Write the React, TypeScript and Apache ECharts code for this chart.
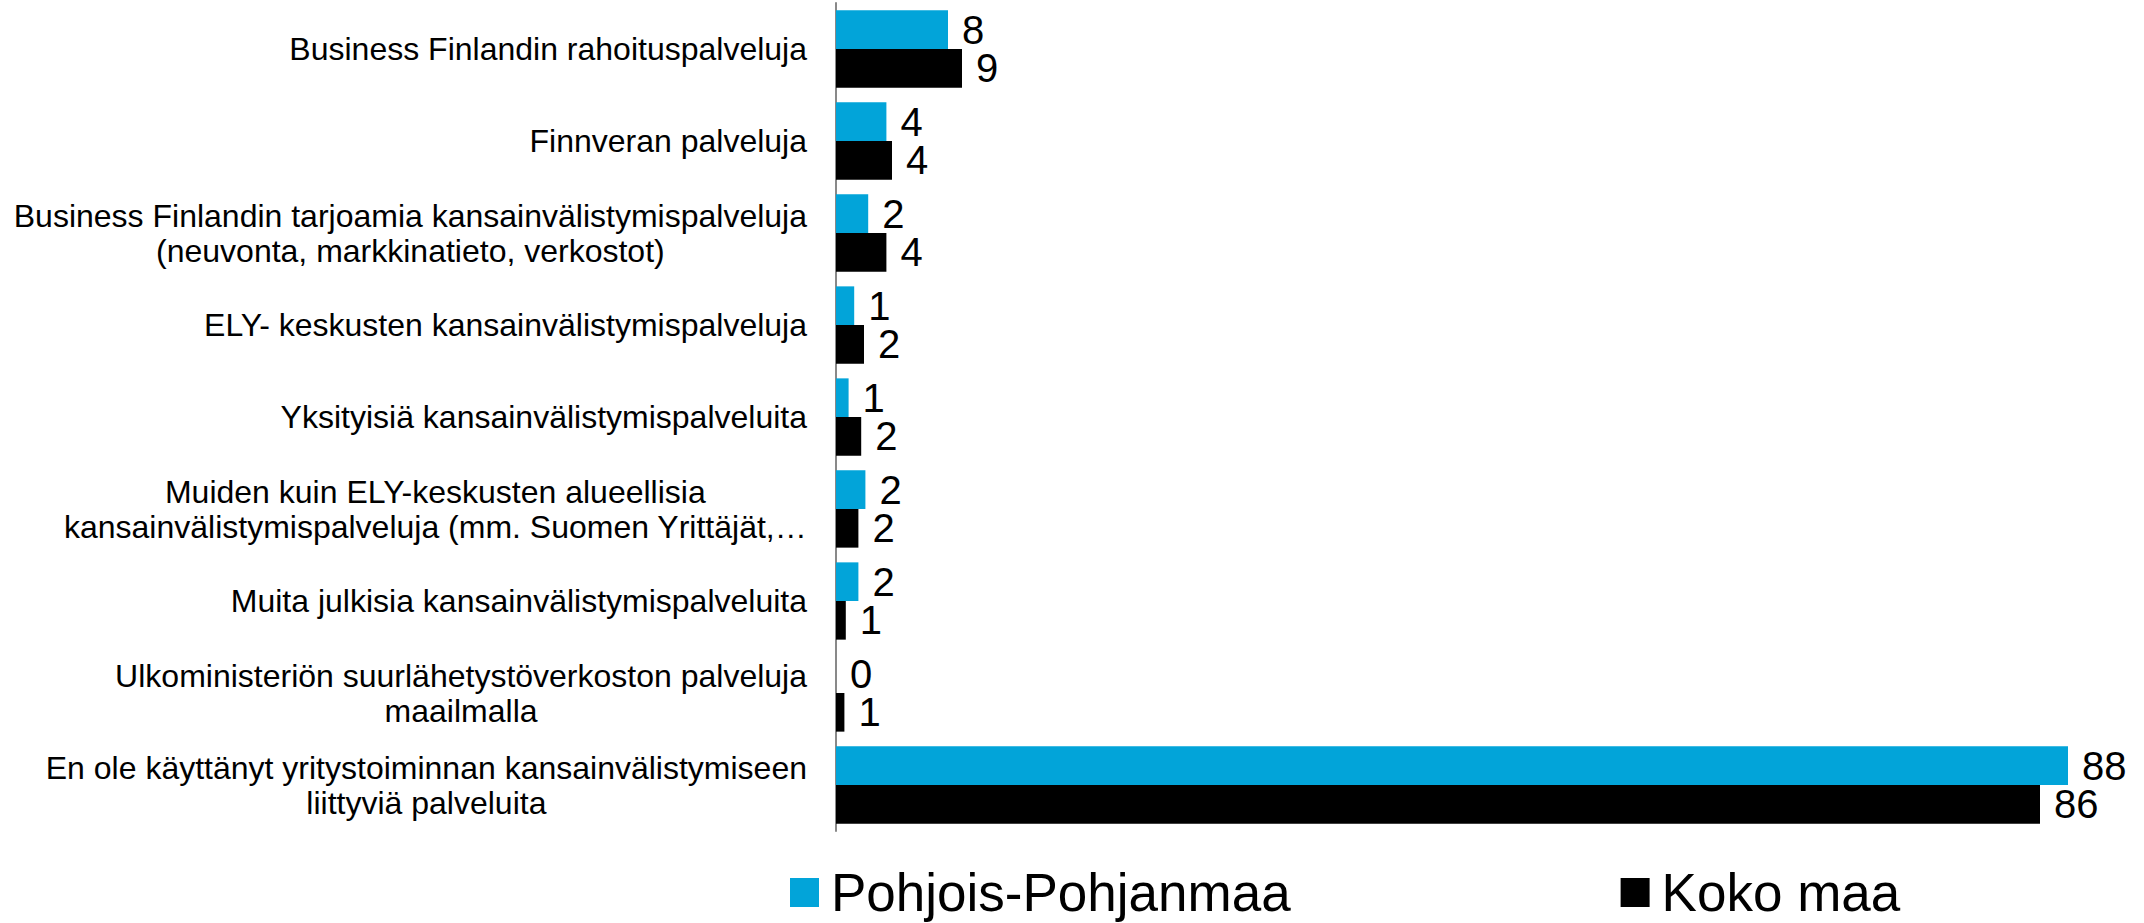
import React, { useEffect, useRef } from "react";
import * as echarts from "echarts";

const categories: string[] = [
  "Business Finlandin rahoituspalveluja",
  "Finnveran palveluja",
  "Business Finlandin tarjoamia kansainvälistymispalveluja\n(neuvonta, markkinatieto, verkostot)",
  "ELY- keskusten kansainvälistymispalveluja",
  "Yksityisiä kansainvälistymispalveluita",
  "Muiden kuin ELY-keskusten alueellisia\nkansainvälistymispalveluja (mm. Suomen Yrittäjät,…",
  "Muita julkisia kansainvälistymispalveluita",
  "Ulkoministeriön suurlähetystöverkoston palveluja\nmaailmalla",
  "En ole käyttänyt yritystoiminnan kansainvälistymiseen\nliittyviä palveluita",
];

const seriesNames: string[] = ["Pohjois-Pohjanmaa", "Koko maa"];

const pohjoisPohjanmaa: number[] = [8.0, 3.6, 2.3, 1.3, 0.9, 2.1, 1.6, 0, 88];
const kokoMaa: number[] = [9.0, 4.0, 3.6, 2.0, 1.8, 1.6, 0.7, 0.6, 86];

const FONT = "'Liberation Sans', Arial, sans-serif";

export default function App() {
  const ref = useRef<HTMLDivElement>(null);

  useEffect(() => {
    if (!ref.current) return;
    const chart = echarts.init(ref.current, undefined, { renderer: "svg" });

    const valueLabel = {
      show: true,
      position: "right" as const,
      distance: 14,
      fontSize: 40,
      color: "#000",
      fontFamily: FONT,
      formatter: (p: any) => String(Math.round(p.value)),
    };

    chart.setOption({
      animation: false,
      backgroundColor: "#fff",
      grid: { left: 836, top: 3, right: 48, bottom: 92, containLabel: false },
      legend: {
        data: seriesNames,
        left: 790,
        top: 866,
        padding: 0,
        icon: "rect",
        itemWidth: 29,
        itemHeight: 29,
        itemGap: 330,
        textStyle: {
          fontSize: 53,
          color: "#000",
          fontFamily: FONT,
          padding: [0, 0, 0, 7],
        },
      },
      xAxis: {
        type: "value",
        min: 0,
        max: 90,
        show: false,
        splitLine: { show: false },
      },
      yAxis: {
        type: "category",
        data: categories,
        inverse: true,
        axisLine: { show: true, lineStyle: { color: "#898989", width: 2 } },
        axisTick: { show: false },
        axisLabel: {
          margin: 29,
          formatter: (v: string) =>
            v
              .split("\n")
              .map((l) => "{c|" + l + "}")
              .join("\n"),
          rich: {
            c: {
              align: "center",
              fontSize: 32,
              lineHeight: 35,
              color: "#000",
              fontFamily: FONT,
            },
          },
        },
      },
      series: [
        {
          name: seriesNames[0],
          type: "bar",
          data: pohjoisPohjanmaa,
          itemStyle: { color: "#02A4D9" },
          barGap: "0%",
          barCategoryGap: "16%",
          label: valueLabel,
        },
        {
          name: seriesNames[1],
          type: "bar",
          data: kokoMaa,
          itemStyle: { color: "#000000" },
          barGap: "0%",
          barCategoryGap: "16%",
          label: valueLabel,
        },
      ],
    });

    return () => chart.dispose();
  }, []);

  return (
    <div
      ref={ref}
      style={{ position: "fixed", left: 0, top: 0, width: 2144, height: 923 }}
    />
  );
}
